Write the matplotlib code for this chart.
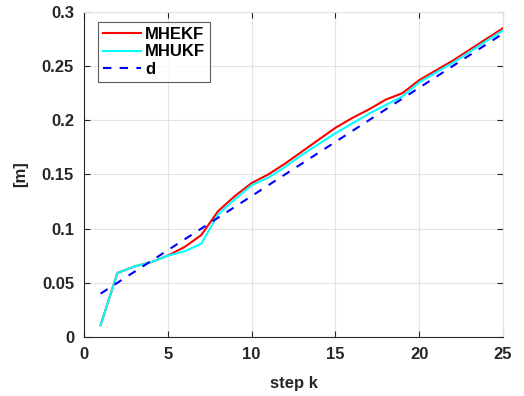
import matplotlib
matplotlib.use('Agg')
import matplotlib.pyplot as plt

plt.rcParams['font.family'] = ['Liberation Sans', 'DejaVu Sans']
plt.rcParams['font.weight'] = 'bold'

steps = list(range(1, 26))
mhekf = [0.011, 0.059, 0.065, 0.069, 0.075, 0.083, 0.094, 0.116, 0.130, 0.142,
         0.150, 0.160, 0.171, 0.182, 0.193, 0.202, 0.210, 0.219, 0.225, 0.237,
         0.246, 0.255, 0.265, 0.275, 0.285]
mhukf = [0.011, 0.059, 0.065, 0.069, 0.075, 0.079, 0.086, 0.113, 0.127, 0.140,
         0.147, 0.157, 0.168, 0.178, 0.188, 0.197, 0.206, 0.214, 0.222, 0.235,
         0.244, 0.253, 0.263, 0.273, 0.283]
d = [0.040, 0.050, 0.060, 0.070, 0.080, 0.090, 0.100, 0.110, 0.120, 0.130,
     0.140, 0.150, 0.160, 0.170, 0.180, 0.190, 0.200, 0.210, 0.220, 0.230,
     0.240, 0.250, 0.260, 0.270, 0.280]

fig = plt.figure(figsize=(5.24, 3.96), dpi=100)
ax = fig.add_axes([0.160, 0.149, 0.800, 0.821])

ax.plot(steps, mhekf, color='red', lw=1.5, label='MHEKF')
ax.plot(steps, mhukf, color='cyan', lw=1.5, label='MHUKF')
ax.plot(steps, d, color='blue', lw=1.5, ls=(0, (4, 4)), label='d')

ax.set_xlim(0, 25)
ax.set_ylim(0, 0.3)
ax.set_xticks([0, 5, 10, 15, 20, 25])
ax.set_yticks([0, 0.05, 0.1, 0.15, 0.2, 0.25, 0.3])
ax.set_yticklabels(['0', '0.05', '0.1', '0.15', '0.2', '0.25', '0.3'])
ax.grid(True, color='#e3e3e3', lw=0.8)
ax.set_axisbelow(True)
ax.tick_params(direction='in', labelsize=12, length=4, top=True, right=True,
               color='#262626', labelcolor='#262626', pad=7)
for s in ['left', 'bottom']:
    ax.spines[s].set_color('#262626')
for s in ['top', 'right']:
    ax.spines[s].set_color('#e3e3e3')
ax.set_xlabel('step k', fontsize=12, fontweight='bold', labelpad=10, color='#262626')
ax.set_ylabel('[m]', fontsize=12, fontweight='bold', labelpad=10, color='#262626')

leg = ax.legend(loc='upper left', bbox_to_anchor=(0.033, 0.969), borderaxespad=0,
                fontsize=12, fancybox=False, edgecolor='#333333',
                handlelength=2.3, labelspacing=0.15, handletextpad=0.25,
                borderpad=0.3)
leg.get_frame().set_linewidth(0.8)

fig.savefig('out.png', dpi=100)
